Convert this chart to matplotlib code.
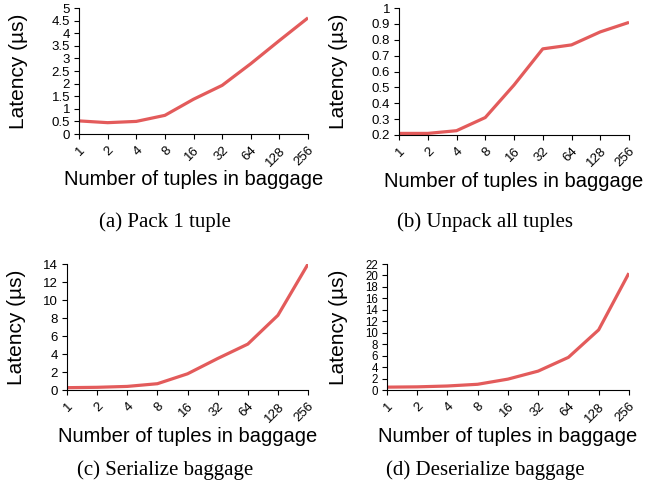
import matplotlib
matplotlib.use("Agg")
import matplotlib.pyplot as plt
from matplotlib.ticker import MultipleLocator, FormatStrFormatter

# tuples in baggage (categorical x axis)
tuples = ["1", "2", "4", "8", "16", "32", "64", "128", "256"]

# latency in microseconds
pack_one = [0.52, 0.45, 0.50, 0.74, 1.38, 1.93, 2.79, 3.71, 4.61]
unpack_all = [0.21, 0.21, 0.227, 0.31, 0.515, 0.743, 0.768, 0.85, 0.91]
serialize = [0.26, 0.30, 0.40, 0.70, 1.80, 3.50, 5.10, 8.30, 14.0]
deserialize = [0.50, 0.55, 0.70, 1.00, 1.90, 3.30, 5.70, 10.5, 20.4]

captions = ["(a) Pack 1 tuple", "(b) Unpack all tuples",
            "(c) Serialize baggage", "(d) Deserialize baggage"]

line_color = "#E35B5B"
sans = "Liberation Sans"
serif = "Liberation Serif"


def draw_panel(fig, rect, values, ylim, ystep, caption, cap_xy, ylab_x, ytick_size=9.5):
    ax = fig.add_axes(rect)
    x = list(range(len(tuples)))
    ax.plot(x, values, color=line_color, linewidth=2.3, solid_capstyle="butt")
    ax.set_xlim(0, len(tuples) - 1)
    ax.set_ylim(*ylim)
    ax.yaxis.set_major_locator(MultipleLocator(ystep))
    ax.yaxis.set_major_formatter(FormatStrFormatter("%g"))
    ax.set_xticks(x)
    ax.set_xticklabels(tuples, rotation=45, ha="right", va="top",
                       rotation_mode="anchor", fontfamily=sans, fontsize=9.5)
    for lab in ax.get_yticklabels():
        lab.set_fontfamily(sans)
        lab.set_fontsize(ytick_size)
    ax.spines["top"].set_visible(False)
    ax.spines["right"].set_visible(False)
    ax.tick_params(axis="y", direction="out", length=3.5, width=0.8, pad=3)
    ax.tick_params(axis="x", direction="out", length=3.5, width=0.8, pad=4)
    ax.set_xlabel("Number of tuples in baggage", fontfamily=sans, fontsize=14.5)
    ax.xaxis.set_label_coords(0.5, -0.365)
    ax.xaxis.label.set_va("center")
    ax.set_ylabel("Latency (µs)", fontfamily=sans, fontsize=15)
    ax.yaxis.set_label_coords(ylab_x, 0.5)
    ax.yaxis.label.set_va("center")
    fig.text(cap_xy[0], cap_xy[1], caption, fontfamily=serif, fontsize=15,
             ha="center", va="center")
    return ax


fig = plt.figure(figsize=(6.47, 4.88), dpi=100)

draw_panel(fig, [0.1221, 0.7254, 0.354, 0.2582], pack_one, (0, 5), 0.5,
           captions[0], (165 / 647, 1 - 222 / 488), -0.266)
draw_panel(fig, [0.6167, 0.7234, 0.3555, 0.2600], unpack_all, (0.2, 1.0), 0.1,
           captions[1], (485 / 647, 1 - 222 / 488), -0.265)
draw_panel(fig, [0.1036, 0.2008, 0.3725, 0.2582], serialize, (0, 14), 2,
           captions[2], (165 / 647, 1 - 470 / 488), -0.21)
draw_panel(fig, [0.5980, 0.2008, 0.3740, 0.2582], deserialize, (0, 22), 2,
           captions[3], (485 / 647, 1 - 470 / 488), -0.20, ytick_size=8.3)

fig.savefig("out.png", dpi=100)
